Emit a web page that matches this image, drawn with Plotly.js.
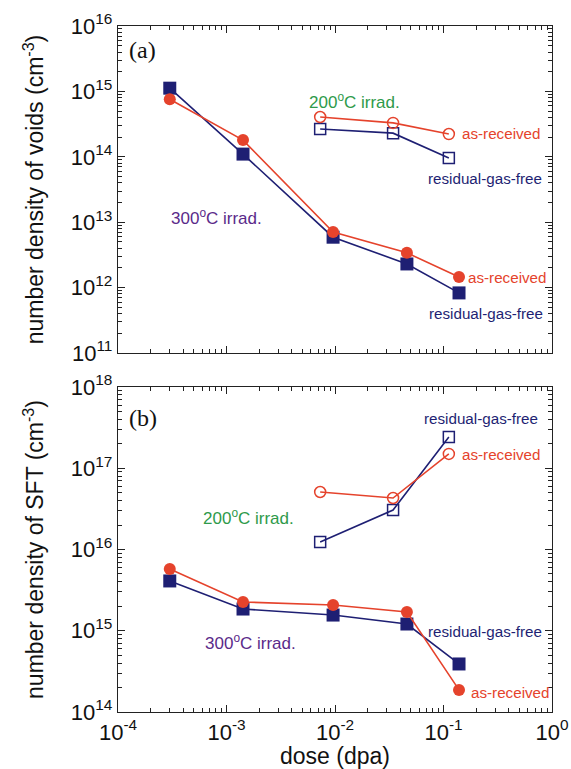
<!DOCTYPE html>
<html>
<head>
<meta charset="utf-8">
<script src="https://cdn.plot.ly/plotly-3.0.1.min.js"></script>
<style>html,body{margin:0;padding:0;background:#fff;}</style>
</head>
<body>
<div id="chart" style="width:571px;height:769px;"></div>
<script>
// dose (dpa)
const dose300 = [3.0e-4, 1.42e-3, 9.6e-3, 0.046, 0.139];
const dose200 = [7.3e-3, 0.0343, 0.112];

// (a) voids, cm^-3
const voids300_asrec = [7.6e14, 1.8e14, 7.1e12, 3.4e12, 1.45e12];
const voids300_rgf   = [1.12e15, 1.1e14, 5.9e12, 2.3e12, 8.3e11];
const voids200_asrec = [4.06e14, 3.3e14, 2.23e14];
const voids200_rgf   = [2.66e14, 2.3e14, 9.6e13];

// (b) SFT, cm^-3
const sft300_asrec = [5.75e15, 2.26e15, 2.07e15, 1.7e15, 1.87e14];
const sft300_rgf   = [4.1e15, 1.85e15, 1.56e15, 1.21e15, 3.9e14];
const sft200_asrec = [5.1e16, 4.3e16, 1.5e17];
const sft200_rgf   = [1.24e16, 3.06e16, 2.43e17];

// tick labels
const xTickVals = [1e-4, 1e-3, 1e-2, 1e-1, 1];
const xTickText = ['10<sup>-4</sup>', '10<sup>-3</sup>', '10<sup>-2</sup>', '10<sup>-1</sup>', '10<sup>0</sup>'];
const yaTickVals = [1e11, 1e12, 1e13, 1e14, 1e15, 1e16];
const yaTickText = ['10<sup>11</sup>', '10<sup>12</sup>', '10<sup>13</sup>', '10<sup>14</sup>', '10<sup>15</sup>', '10<sup>16</sup>'];
const ybTickVals = [1e14, 1e15, 1e16, 1e17, 1e18];
const ybTickText = ['10<sup>14</sup>', '10<sup>15</sup>', '10<sup>16</sup>', '10<sup>17</sup>', '10<sup>18</sup>'];

const RED = '#e5432c', NAVY = '#1e1f73', GREEN = '#2e9a4a', PURPLE = '#5a2a8a';

function tr(x, y, xa, ya, color, symbol, size, open) {
  return {
    x: x, y: y, xaxis: xa, yaxis: ya, type: 'scatter', mode: 'lines+markers',
    line: {color: color, width: 1.6},
    marker: {symbol: symbol, size: size, color: color,
             line: {color: color, width: open ? 1.5 : 0}},
    showlegend: false, hoverinfo: 'skip'
  };
}

const data = [
  tr(dose300, voids300_rgf, 'x', 'y', NAVY, 'square', 13, false),
  tr(dose300, voids300_asrec, 'x', 'y', RED, 'circle', 12, false),
  tr(dose200, voids200_rgf, 'x', 'y', NAVY, 'square-open', 11, true),
  tr(dose200, voids200_asrec, 'x', 'y', RED, 'circle-open', 11, true),
  tr(dose300, sft300_rgf, 'x2', 'y2', NAVY, 'square', 13, false),
  tr(dose300, sft300_asrec, 'x2', 'y2', RED, 'circle', 12, false),
  tr(dose200, sft200_rgf, 'x2', 'y2', NAVY, 'square-open', 11, true),
  tr(dose200, sft200_asrec, 'x2', 'y2', RED, 'circle-open', 11, true)
];

function minorVals(lo, hi) {
  const v = [];
  for (let e = lo; e < hi; e++) for (let m = 2; m <= 9; m++) v.push(m * Math.pow(10, e));
  return v;
}

const tickFont = {family: 'Liberation Sans, Arial, sans-serif', size: 22, color: '#111'};
function axis(extra) {
  return Object.assign({
    type: 'log', tickmode: 'array',
    ticks: 'inside', ticklen: 7, tickwidth: 1, tickcolor: '#222',
    showline: true, linecolor: '#222', linewidth: 1.2, mirror: 'ticks',
    showgrid: false, zeroline: false, tickfont: tickFont
  }, extra);
}
function minor(lo, hi) {
  return {tickmode: 'array', tickvals: minorVals(lo, hi), ticks: 'inside', ticklen: 4, tickcolor: '#222', showgrid: false};
}

const layout = {
  width: 571, height: 769,
  margin: {l: 118, r: 19, t: 26, b: 57},
  paper_bgcolor: '#fff', plot_bgcolor: '#fff',
  font: {family: 'Liberation Sans, Arial, sans-serif', color: '#111'},
  xaxis: axis({range: [-4, 0], domain: [0, 1], anchor: 'y', showticklabels: false,
               tickvals: xTickVals, ticktext: xTickText, minor: minor(-4, 0)}),
  yaxis: axis({range: [11, 16], domain: [0.5233, 1], anchor: 'x',
               tickvals: yaTickVals, ticktext: yaTickText, minor: minor(11, 16),
               title: {text: 'number density of voids (cm<sup>-3</sup>)', font: {size: 23, color: '#111'}, standoff: 20}}),
  xaxis2: axis({range: [-4, 0], domain: [0, 1], anchor: 'y2',
               tickvals: xTickVals, ticktext: xTickText, minor: minor(-4, 0),
               title: {text: 'dose (dpa)', font: {size: 23, color: '#111'}, standoff: 6}}),
  yaxis2: axis({range: [14, 18], domain: [0, 0.4738], anchor: 'x2',
               tickvals: ybTickVals, ticktext: ybTickText, minor: minor(14, 18),
               title: {text: 'number density of SFT (cm<sup>-3</sup>)', font: {size: 23, color: '#111'}, standoff: 20}}),
  annotations: []
};

function ann(text, xr, yr, x, y, color, size, anchor, fam) {
  layout.annotations.push({
    text: text, xref: xr, yref: yr, x: x, y: y, showarrow: false,
    xanchor: anchor || 'left', yanchor: 'middle',
    font: {color: color, size: size || 15, family: fam || 'Liberation Sans, Arial, sans-serif'}
  });
}

// panel (a)
ann('(a)', 'x', 'y', -3.92, 15.633, '#111', 24, 'left', 'Liberation Serif, Times New Roman, serif');
ann('200<sup>o</sup>C irrad.', 'x', 'y', -1.816, 14.853, GREEN, 17, 'center');
ann('as-received', 'x', 'y', -0.85, 14.349, RED, 15.2, 'left');
ann('residual-gas-free', 'x', 'y', -0.618, 13.676, NAVY, 15.2, 'center');
ann('300<sup>o</sup>C irrad.', 'x', 'y', -3.088, 13.08, PURPLE, 17, 'center');
ann('as-received', 'x', 'y', -0.793, 12.162, RED, 15.2, 'left');
ann('residual-gas-free', 'x', 'y', -0.608, 11.61, NAVY, 15.2, 'center');

// panel (b)
ann('(b)', 'x2', 'y2', -3.92, 17.618, '#111', 24, 'left', 'Liberation Serif, Times New Roman, serif');
ann('residual-gas-free', 'x2', 'y2', -0.654, 17.606, NAVY, 15.2, 'center');
ann('as-received', 'x2', 'y2', -0.848, 17.175, RED, 15.2, 'left');
ann('200<sup>o</sup>C irrad.', 'x2', 'y2', -2.793, 16.4, GREEN, 17, 'center');
ann('300<sup>o</sup>C irrad.', 'x2', 'y2', -2.783, 14.862, PURPLE, 17, 'center');
ann('residual-gas-free', 'x2', 'y2', -0.618, 14.985, NAVY, 15.2, 'center');
ann('as-received', 'x2', 'y2', -0.765, 14.234, RED, 15.2, 'left');

Plotly.newPlot('chart', data, layout, {staticPlot: true, displayModeBar: false});
</script>
</body>
</html>
